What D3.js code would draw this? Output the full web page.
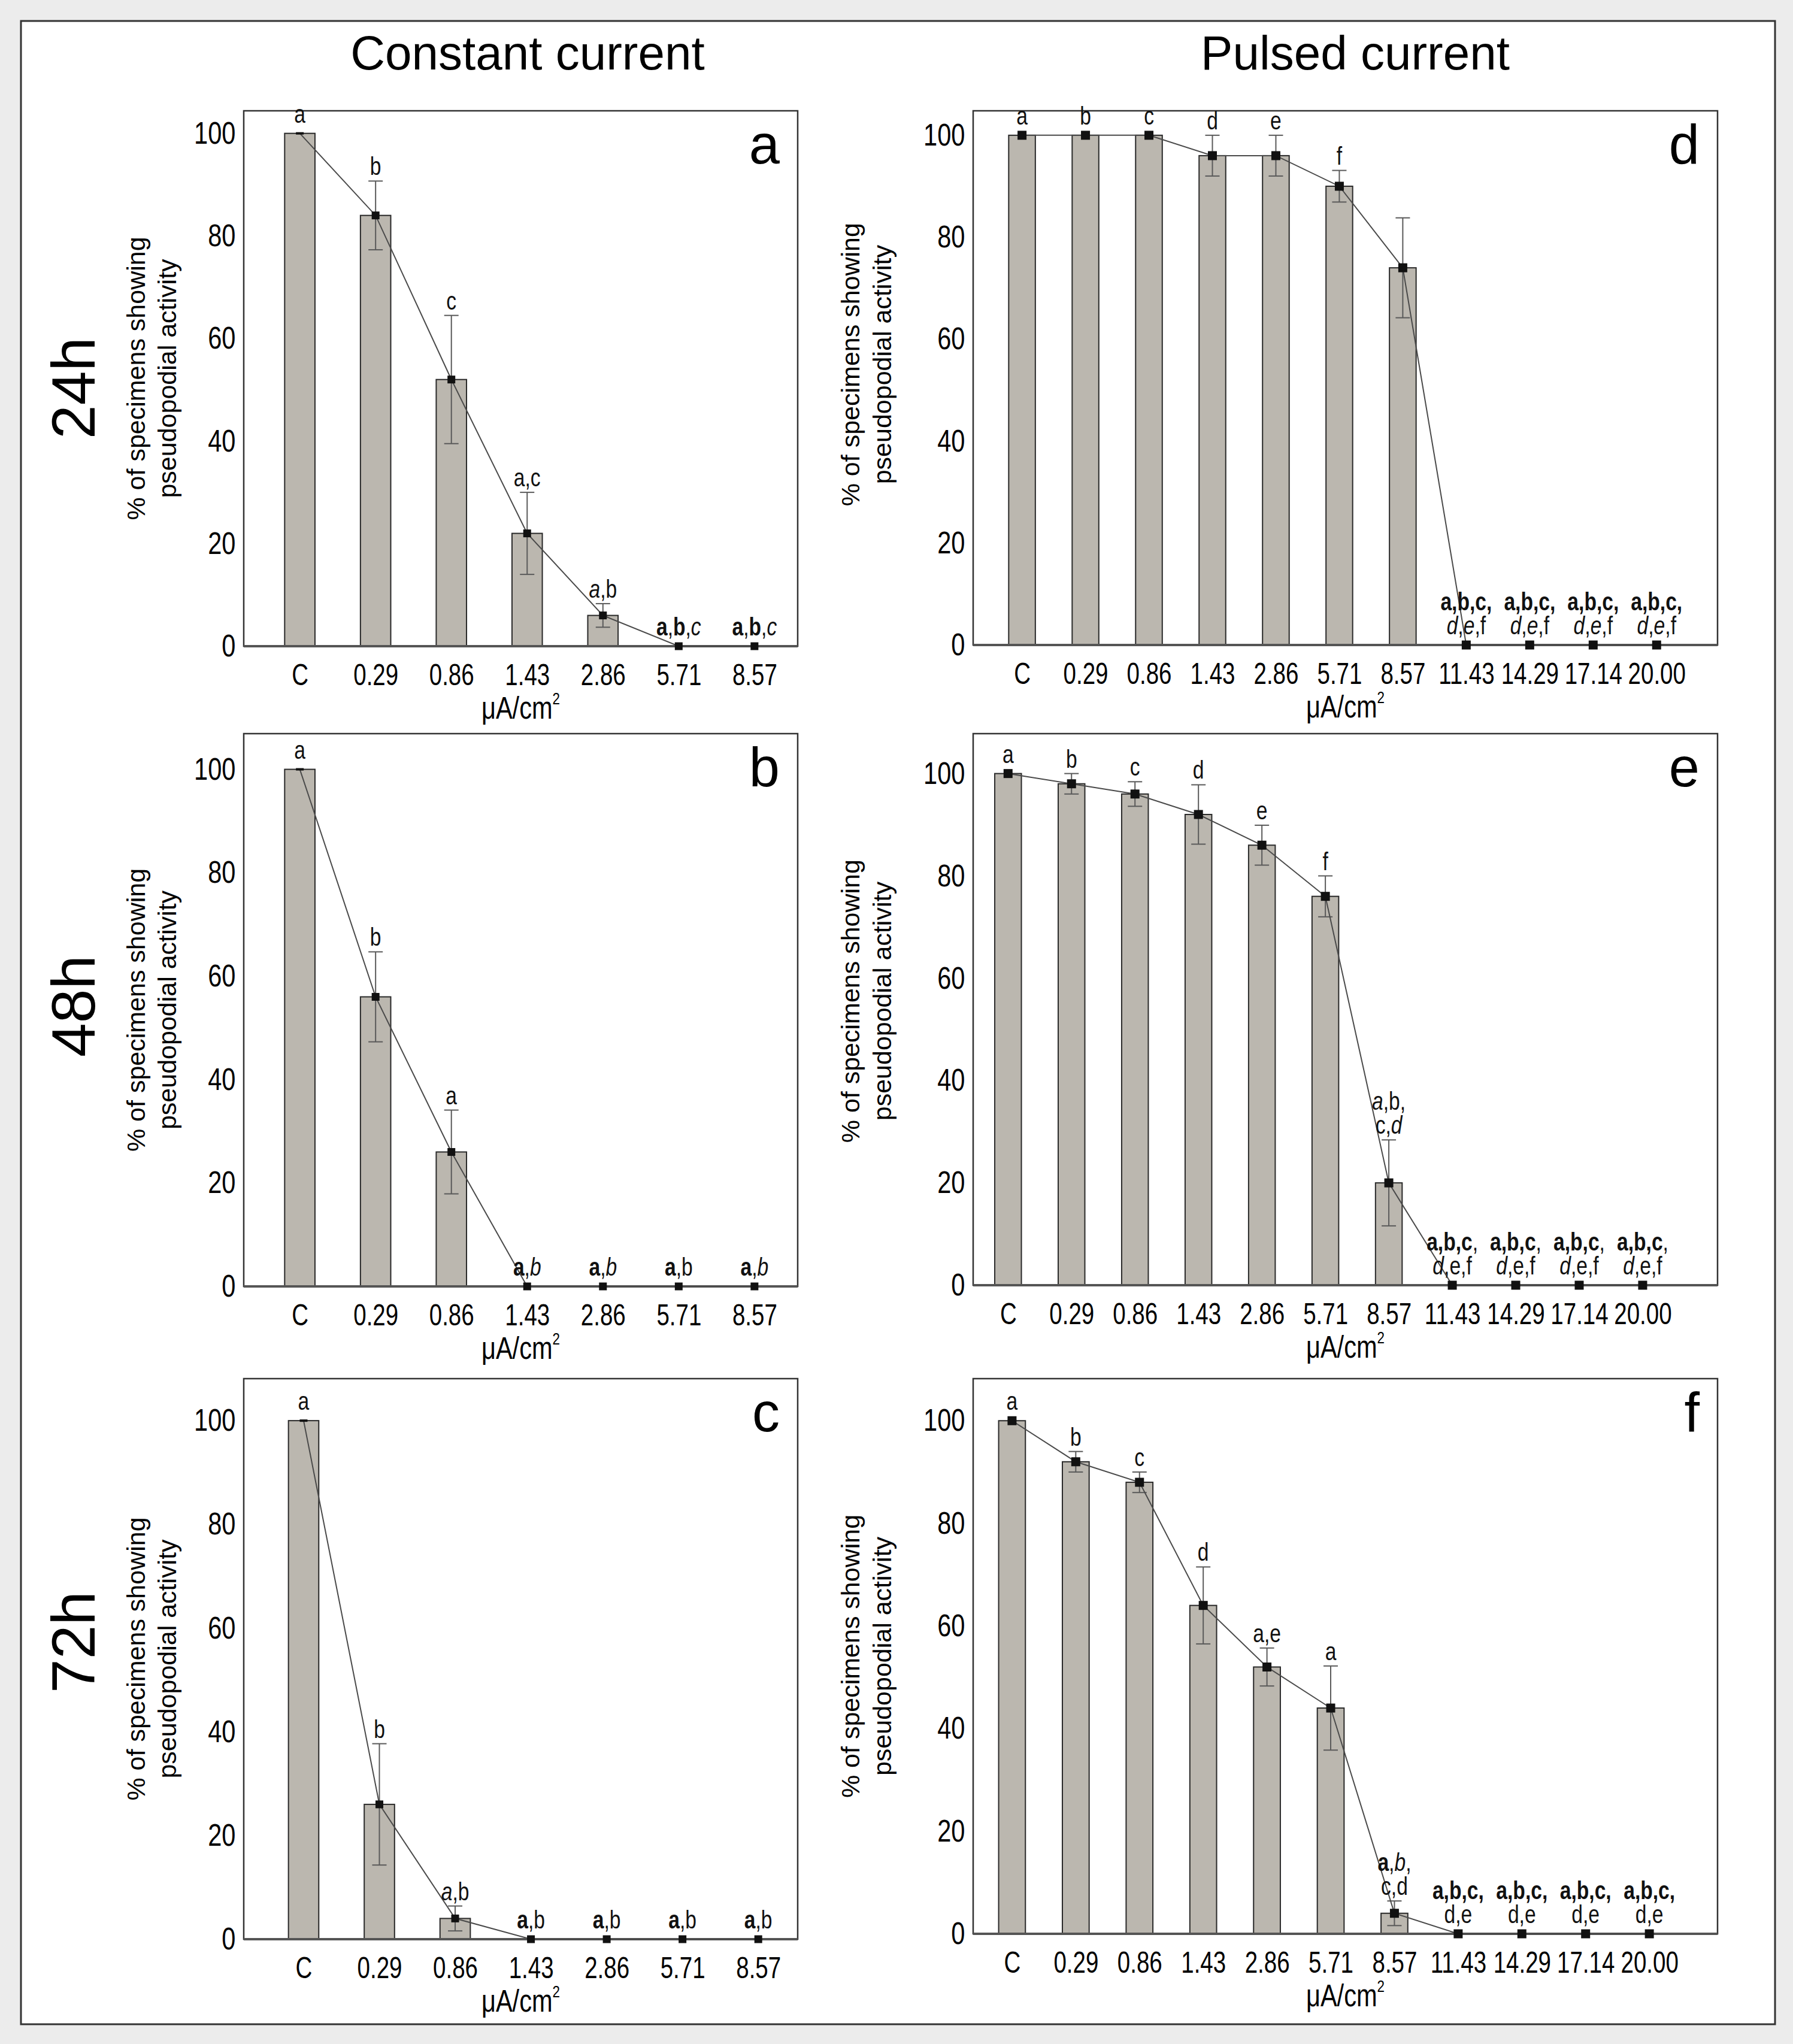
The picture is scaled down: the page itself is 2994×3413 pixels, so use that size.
<!DOCTYPE html>
<html lang="en">
<head>
  <meta charset="UTF-8">
  <title>Pseudopodial activity under constant and pulsed current</title>
  <style>
    body { margin: 0; background: #e9e9e9; }
    svg { display: block; }
  </style>
  <script src="https://d3js.org/d3.v7.min.js"></script>
</head>
<body>
  <svg width="2994" height="3413"></svg>

  <script>
    // categories (current density, uA/cm2)
    var constCats = ["C", "0.29", "0.86", "1.43", "2.86", "5.71", "8.57"];
    var pulsedCats = ["C", "0.29", "0.86", "1.43", "2.86", "5.71", "8.57", "11.43", "14.29", "17.14", "20.00"];
    var yTicks = [0, 20, 40, 60, 80, 100];

    // constant current, % specimens with pseudopodial activity (mean, SE)
    var const24Values = [100, 84, 52, 22, 6, 0, 0];
    var const24Errors = [0, 6.7, 12.5, 8, 2.3, 0, 0];
    var const24Letters = ["a", "b", "c", "a,c", "*a*,b", "**a**,**b**,*c*", "**a**,**b**,*c*"];

    var const48Values = [100, 56, 26, 0, 0, 0, 0];
    var const48Errors = [0, 8.7, 8.1, 0, 0, 0, 0];
    var const48Letters = ["a", "b", "a", "**a**,*b*", "**a**,*b*", "**a**,b", "**a**,*b*"];

    var const72Values = [100, 26, 4, 0, 0, 0, 0];
    var const72Errors = [0, 11.7, 2.4, 0, 0, 0, 0];
    var const72Letters = ["a", "b", "*a*,b", "**a**,b", "**a**,b", "**a**,b", "**a**,b"];

    // pulsed current
    var pulsed24Values = [100, 100, 100, 96, 96, 90, 74, 0, 0, 0, 0];
    var pulsed24Errors = [0, 0, 0, 4, 4, 3.1, 9.8, 0, 0, 0, 0];
    var pulsed24Letters = ["a", "b", "c", "d", "e", "f", "",
      "**a,b,c,**\n*d*,*e*,f", "**a,b,c,**\n*d*,*e*,f", "**a,b,c,**\n*d*,*e*,f", "**a,b,c,**\n*d*,*e*,f"];

    var pulsed48Values = [100, 98, 96, 92, 86, 76, 20, 0, 0, 0, 0];
    var pulsed48Errors = [0, 2, 2.4, 5.8, 3.9, 4, 8.4, 0, 0, 0, 0];
    var pulsed48Letters = ["a", "b", "c", "d", "e", "f", "*a*,b,\nc,*d*",
      "**a,b,c**,\n*d*,e,f", "**a,b,c**,\n*d*,e,f", "**a,b,c**,\n*d*,e,f", "**a,b,c**,\n*d*,e,f"];

    var pulsed72Values = [100, 92, 88, 64, 52, 44, 4, 0, 0, 0, 0];
    var pulsed72Errors = [0, 2, 2, 7.5, 3.7, 8.2, 2.4, 0, 0, 0, 0];
    var pulsed72Letters = ["a", "b", "c", "d", "a,e", "a", "**a**,*b*,\nc,d",
      "**a,b,c,**\nd,e", "**a,b,c,**\nd,e", "**a,b,c,**\nd,e", "**a,b,c,**\nd,e"];

    var FONT = "'Liberation Sans', Arial, sans-serif";
    var NARROW = "scale(0.8,1)";   // the figure uses a condensed face
    var NARROW_X = "scale(0.77,1)";

    // panel layout
    var panels = [
      { tag: "a", cats: constCats, values: const24Values, errors: const24Errors, letters: const24Letters,
        x0: 407, x1: 1332, y0: 185, y1: 1079, yMax: 104.4, padL: 0.74, padR: 0.57, barFrac: 0.40, mk: 13, flatFirst: true, labOff: [180, 128], labFrac: 0.5 },
      { tag: "b", cats: constCats, values: const48Values, errors: const48Errors, letters: const48Letters,
        x0: 407, x1: 1332, y0: 1225, y1: 2148, yMax: 106.9, padL: 0.74, padR: 0.57, barFrac: 0.40, mk: 13, flatFirst: true, labOff: [180, 128], labFrac: 0.5 },
      { tag: "c", cats: constCats, values: const72Values, errors: const72Errors, letters: const72Letters,
        x0: 407, x1: 1332, y0: 2302, y1: 3238, yMax: 108.1, padL: 0.79, padR: 0.52, barFrac: 0.40, mk: 13, flatFirst: true, labOff: [180, 128], labFrac: 0.5 },
      { tag: "d", cats: pulsedCats, values: pulsed24Values, errors: pulsed24Errors, letters: pulsed24Letters,
        x0: 1625, x1: 2868, y0: 185, y1: 1077, yMax: 104.8, padL: 0.77, padR: 0.96, barFrac: 0.42, mk: 15, flatFirst: false, labOff: [205, 152], labFrac: 0.475 },
      { tag: "e", cats: pulsedCats, values: pulsed48Values, errors: pulsed48Errors, letters: pulsed48Letters,
        x0: 1625, x1: 2868, y0: 1225, y1: 2146, yMax: 107.8, padL: 0.55, padR: 1.18, barFrac: 0.42, mk: 15, flatFirst: false, labOff: [205, 152], labFrac: 0.485 },
      { tag: "f", cats: pulsedCats, values: pulsed72Values, errors: pulsed72Errors, letters: pulsed72Letters,
        x0: 1625, x1: 2868, y0: 2302, y1: 3229, yMax: 108.2, padL: 0.61, padR: 1.07, barFrac: 0.42, mk: 15, flatFirst: false, labOff: [205, 152], labFrac: 0.5 }
    ];

    var svg = d3.select("svg");

    // outer frame
    svg.append("rect").attr("width", 2994).attr("height", 3413).attr("fill", "#ececec");
    svg.append("rect")
      .attr("x", 35).attr("y", 35).attr("width", 2929).attr("height", 3345)
      .attr("fill", "#fff").attr("stroke", "#333").attr("stroke-width", 3);

    // column titles
    svg.append("text").attr("x", 881).attr("y", 116).attr("text-anchor", "middle")
      .attr("font-family", FONT).attr("font-size", 80).text("Constant current");
    svg.append("text").attr("x", 2263).attr("y", 116).attr("text-anchor", "middle")
      .attr("font-family", FONT).attr("font-size", 80).text("Pulsed current");

    // row titles
    [["24h", 648], ["48h", 1680], ["72h", 2742]].forEach(function(r) {
      svg.append("text")
        .attr("transform", "translate(122," + r[1] + ") rotate(-90)")
        .attr("text-anchor", "middle").attr("dy", "0.35em")
        .attr("font-family", FONT).attr("font-size", 102).text(r[0]);
    });

    // bold / italic markup in the letter labels
    function richLine(sel, str) {
      var re = /\*\*([^*]+)\*\*|\*([^*]+)\*|([^*]+)/g, m;
      while ((m = re.exec(str))) {
        var t = sel.append("tspan");
        if (m[1]) t.attr("font-weight", "bold").text(m[1]);
        else if (m[2]) t.attr("font-style", "italic").text(m[2]);
        else t.text(m[3]);
      }
    }

    function drawPanel(p) {
      var n = p.cats.length;
      var w = p.x1 - p.x0, h = p.y1 - p.y0;
      var g = svg.append("g").attr("transform", "translate(" + p.x0 + "," + p.y0 + ")");

      var x = d3.scaleLinear().domain([-p.padL, n - 1 + p.padR]).range([0, w]);
      var y = d3.scaleLinear().domain([0, p.yMax]).range([h, 0]);
      var bw = (x(1) - x(0)) * p.barFrac;
      var idx = d3.range(n);

      // bars
      g.selectAll(".bar").data(idx.filter(function(i) { return p.values[i] > 0; }))
        .enter().append("rect")
        .attr("x", function(i) { return x(i) - bw / 2; })
        .attr("y", function(i) { return y(p.values[i]); })
        .attr("width", bw)
        .attr("height", function(i) { return h - y(p.values[i]); })
        .attr("fill", "#bbb7af").attr("stroke", "#2a2a2a").attr("stroke-width", 2);

      // error bars
      var eb = g.selectAll(".err").data(idx.filter(function(i) { return p.errors[i] > 0; }))
        .enter().append("g").attr("stroke", "#5a5a5a").attr("stroke-width", 2);
      eb.append("line")
        .attr("x1", function(i) { return x(i); }).attr("x2", function(i) { return x(i); })
        .attr("y1", function(i) { return y(p.values[i] + p.errors[i]); })
        .attr("y2", function(i) { return y(p.values[i] - p.errors[i]); });
      [1, -1].forEach(function(s) {
        eb.append("line")
          .attr("x1", function(i) { return x(i) - 12; }).attr("x2", function(i) { return x(i) + 12; })
          .attr("y1", function(i) { return y(p.values[i] + s * p.errors[i]); })
          .attr("y2", function(i) { return y(p.values[i] + s * p.errors[i]); });
      });

      // frame
      g.append("rect").attr("width", w).attr("height", h)
        .attr("fill", "none").attr("stroke", "#333").attr("stroke-width", 2.5);
      g.append("line").attr("x1", 0).attr("x2", w).attr("y1", h).attr("y2", h)
        .attr("stroke", "#555").attr("stroke-width", 4);

      // connecting line
      g.append("path").datum(idx)
        .attr("d", d3.line().x(function(i) { return x(i); }).y(function(i) { return y(p.values[i]); }))
        .attr("fill", "none").attr("stroke", "#4a4a4a").attr("stroke-width", 2);

      // markers
      g.selectAll(".mk").data(idx).enter().append("rect")
        .attr("x", function(i) { return x(i) - p.mk / 2; })
        .attr("y", function(i) { return (i === 0 && p.flatFirst) ? y(p.values[i]) - 2 : y(p.values[i]) - p.mk / 2; })
        .attr("width", p.mk)
        .attr("height", function(i) { return (i === 0 && p.flatFirst) ? 4 : p.mk; })
        .attr("fill", "#111");

      // significance letters
      idx.forEach(function(i) {
        if (!p.letters[i]) return;
        var lines = p.letters[i].split("\n");
        var base = Math.min(y(p.values[i] + p.errors[i]) - 10, y(p.values[i]) - 18);
        lines.forEach(function(line, k) {
          var t = g.append("g")
            .attr("transform", "translate(" + x(i) + "," + (base - (lines.length - 1 - k) * 40) + ")")
            .append("text")
            .attr("transform", NARROW)
            .attr("text-anchor", "middle")
            .attr("font-family", FONT).attr("font-size", 42).attr("fill", "#111");
          richLine(t, line);
        });
      });

      // axes
      var ya = g.append("g").call(d3.axisLeft(y).tickValues(yTicks).tickSize(0).tickPadding(17));
      ya.select(".domain").remove();
      ya.attr("font-family", FONT).attr("font-size", 52);
      ya.selectAll(".tick text").attr("transform", NARROW);

      var xa = g.append("g").attr("transform", "translate(0," + h + ")")
        .call(d3.axisBottom(x).tickValues(idx).tickSize(0).tickPadding(30)
          .tickFormat(function(i) { return p.cats[i]; }));
      xa.select(".domain").remove();
      xa.attr("font-family", FONT).attr("font-size", 50);
      xa.selectAll(".tick text").attr("transform", NARROW_X);

      // x axis title
      var xt = g.append("g").attr("transform", "translate(" + (w / 2) + "," + (h + 121) + ")")
        .append("text").attr("transform", NARROW).attr("text-anchor", "middle")
        .attr("font-family", FONT).attr("font-size", 52).text("\u03bcA/cm");
      xt.append("tspan").attr("font-size", 28).attr("dy", -24).text("2");

      // y axis title
      var yc = h * p.labFrac;
      g.append("text").attr("transform", "translate(" + (-p.labOff[0]) + "," + yc + ") rotate(-90)")
        .attr("text-anchor", "middle").attr("dy", "0.35em")
        .attr("font-family", FONT).attr("font-size", 43).text("% of specimens showing");
      g.append("text").attr("transform", "translate(" + (-p.labOff[1]) + "," + yc + ") rotate(-90)")
        .attr("text-anchor", "middle").attr("dy", "0.35em")
        .attr("font-family", FONT).attr("font-size", 43).text("pseudopodial activity");

      // panel tag
      g.append("text").attr("x", w - 30).attr("y", 88).attr("text-anchor", "end")
        .attr("font-family", FONT).attr("font-size", 92).text(p.tag);
    }

    panels.forEach(drawPanel);
  </script>
</body>
</html>
